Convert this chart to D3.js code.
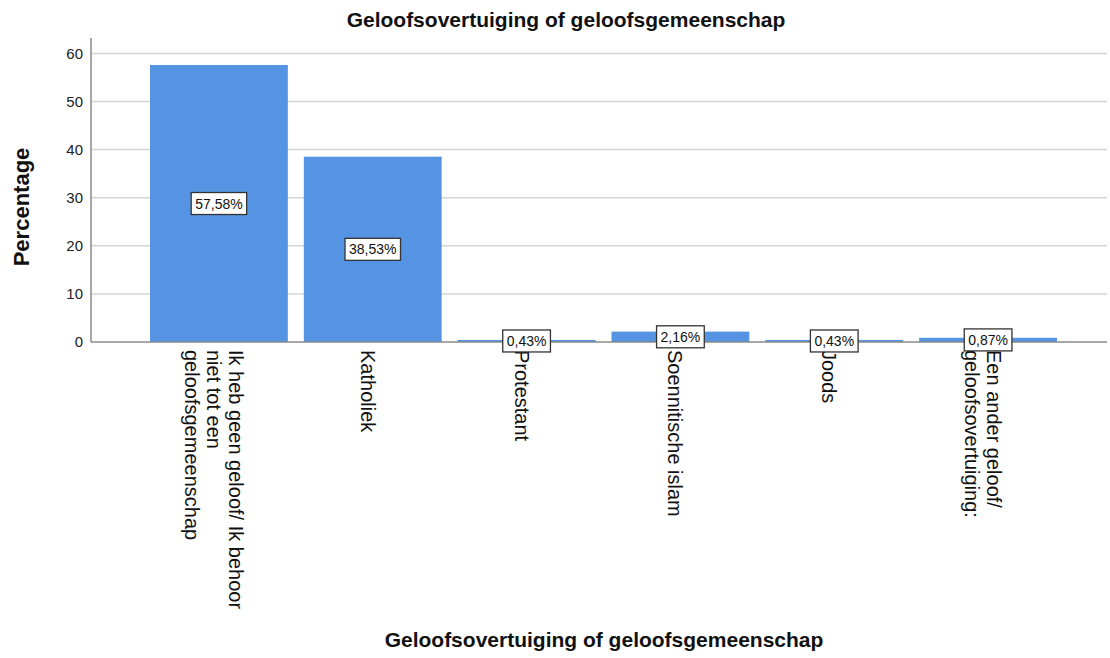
<!DOCTYPE html>
<html><head><meta charset="utf-8">
<script src="https://cdn.jsdelivr.net/npm/d3@7"></script>
<style>body{margin:0;background:#fff}svg{display:block}text{font-family:Arial,"Liberation Sans",sans-serif}</style>
</head><body>
<svg id="c" width="1110" height="658"></svg>
<script>
const categories = [
  ["Ik heb geen geloof/ Ik behoor","niet tot een","geloofsgemeenschap"],
  ["Katholiek"],
  ["Protestant"],
  ["Soennitische islam"],
  ["Joods"],
  ["Een ander geloof/","geloofsovertuiging:"]
];
const values = [57.58, 38.53, 0.43, 2.16, 0.43, 0.87];
const valueLabels = ["57,58%","38,53%","0,43%","2,16%","0,43%","0,87%"];
const yTicks = [0,10,20,30,40,50,60];
const title = "Geloofsovertuiging of geloofsgemeenschap";
const xTitle = "Geloofsovertuiging of geloofsgemeenschap";
const yTitle = "Percentage";

const svg = d3.select("#c");
const axisX0 = 91, axisX1 = 1107, yTop = 38, yBase = 342;
const keys = categories.map((d,i)=>i);
const x = d3.scaleBand().domain(keys).range([150,1057]).paddingInner(0.104).paddingOuter(0);
const y = d3.scaleLinear().domain([0,63.2]).range([yBase,yTop]);

// gridlines
svg.append("g").selectAll("line").data(yTicks.filter(t=>t>0)).join("line")
  .attr("x1",axisX0).attr("x2",axisX1).attr("y1",d=>y(d)).attr("y2",d=>y(d))
  .attr("stroke","#d4d4d4").attr("stroke-width",1.5);

// y axis
const yAxis = d3.axisLeft(y).tickValues(yTicks).tickSize(0).tickPadding(8);
const gy = svg.append("g").attr("transform",`translate(${axisX0},0)`).call(yAxis);
gy.select(".domain").remove();
gy.selectAll("text").attr("font-size",15).attr("fill","#222").style("font-family","Arial, 'Liberation Sans', sans-serif");

// bars
svg.append("g").selectAll("rect").data(values).join("rect")
  .attr("x",(d,i)=>x(i)).attr("width",x.bandwidth())
  .attr("y",d=>y(d)).attr("height",d=>yBase-y(d))
  .attr("fill","#5594E2");

// axis lines
svg.append("line").attr("x1",axisX0).attr("x2",axisX0).attr("y1",yTop).attr("y2",yBase)
  .attr("stroke","#8a8a8a").attr("stroke-width",1.5);
svg.append("line").attr("x1",axisX0).attr("x2",axisX1).attr("y1",yBase).attr("y2",yBase)
  .attr("stroke","#8a8a8a").attr("stroke-width",1.5);

// category labels (rotated)
const lineGap = 22;
categories.forEach((lines,i)=>{
  const cx = x(i)+x.bandwidth()/2;
  const n = lines.length;
  lines.forEach((ln,j)=>{
    const bx = cx - 12 + ((n-1)/2 - j)*lineGap;
    svg.append("text").attr("transform",`translate(${bx},350) rotate(90)`)
      .attr("font-size",20).attr("fill","#111").attr("text-anchor","start").text(ln);
  });
});

// value labels
const vl = svg.append("g");
values.forEach((v,i)=>{
  const cx = x(i)+x.bandwidth()/2, cy = y(v/2);
  const g = vl.append("g");
  const t = g.append("text").attr("x",cx).attr("y",cy).attr("dy","0.36em")
    .attr("text-anchor","middle").attr("font-size",14).attr("fill","#111").text(valueLabels[i]);
  const bb = t.node().getBBox();
  g.insert("rect","text").attr("x",cx-bb.width/2-4).attr("y",cy-11).attr("width",bb.width+8).attr("height",22)
    .attr("fill","#fff").attr("stroke","#333").attr("stroke-width",1.3);
});

// titles
svg.append("text").attr("x",566).attr("y",27).attr("text-anchor","middle")
  .attr("font-size",21).attr("font-weight","bold").attr("fill","#111").text(title);
svg.append("text").attr("x",604).attr("y",647).attr("text-anchor","middle")
  .attr("font-size",21).attr("font-weight","bold").attr("fill","#111").text(xTitle);
svg.append("text").attr("transform","translate(29,207) rotate(-90)").attr("text-anchor","middle")
  .attr("font-size",22).attr("font-weight","bold").attr("fill","#111").text(yTitle);
</script>
</body></html>
